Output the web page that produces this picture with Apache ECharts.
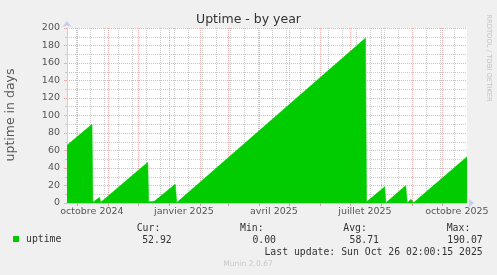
<!DOCTYPE html>
<html><head><meta charset="utf-8">
<script src="https://cdn.jsdelivr.net/npm/echarts@6/dist/echarts.min.js"></script>
<style>html,body{margin:0;padding:0;background:#f0f0f0;}#c{width:497px;height:275px;}</style>
</head><body><div id="c"></div>
<script>
// ---- data ----
const timeRange = ['2024-09-21 02:00', '2025-10-26 02:00'];
const pointDates = [
  '2024-09-21 02:00', '2024-10-16 02:00', '2024-10-17 00:00', '2024-10-23 16:00',
  '2024-10-24 20:00', '2024-12-10 20:00', '2024-12-11 20:00', '2024-12-17 08:00',
  '2025-01-07 08:00', '2025-01-08 20:00', '2025-01-09 20:00', '2025-07-16 14:00',
  '2025-07-17 16:00', '2025-08-04 20:00', '2025-08-06 00:00', '2025-08-07 00:00',
  '2025-08-25 20:00', '2025-08-27 08:00', '2025-08-29 08:00', '2025-08-31 02:00',
  '2025-09-02 02:00', '2025-09-02 20:00', '2025-09-04 08:00', '2025-10-26 02:00'
];
const uptimeDays = [
  66, 90, 1, 6.5,
  0.8, 46.5, 1.5, 2,
  21.5, 0.5, 0.8, 188.5,
  1.5, 18.6, 0.3, 0.3,
  20, 0.3, 0.5, 4.2,
  4, 0.5, 0.8, 52.9
];
const monthStarts = [
  '2024-10-01', '2024-11-01', '2024-12-01', '2025-01-01', '2025-02-01', '2025-03-01',
  '2025-04-01', '2025-05-01', '2025-06-01', '2025-07-01', '2025-08-01', '2025-09-01', '2025-10-01'
];
const biweekStarts = [
  '2024-09-30', '2024-10-14', '2024-10-28', '2024-11-11', '2024-11-25', '2024-12-09',
  '2024-12-23', '2025-01-06', '2025-01-20', '2025-02-03', '2025-02-17', '2025-03-03',
  '2025-03-17', '2025-03-31', '2025-04-14', '2025-04-28', '2025-05-12', '2025-05-26',
  '2025-06-09', '2025-06-23', '2025-07-07', '2025-07-21', '2025-08-04', '2025-08-18',
  '2025-09-15', '2025-09-29', '2025-10-13'
];
const xLabelDates = ['2024-10-16', '2025-01-16', '2025-04-16', '2025-07-16', '2025-10-16'];
const xLabelTexts = ['octobre 2024', 'janvier 2025', 'avril 2025', 'juillet 2025', 'octobre 2025'];
const yMin = 0, yMax = 200, yStep = 20;
const seriesName = 'uptime';
const statNames = ['Cur:', 'Min:', 'Avg:', 'Max:'];
const statValues = ['52.92', '0.00', '58.71', '190.07'];
const titleText = 'Uptime - by year';
const yAxisTitle = 'uptime in days';
const lastUpdate = 'Last update: Sun Oct 26 02:00:15 2025';
const footer = 'Munin 2.0.67';
const sideText = 'RRDTOOL / TOBI OETIKER';

// ---- build ----
const ts = s => new Date(s.length <= 10 ? s + 'T00:00' : s.replace(' ', 'T')).getTime();
const seriesData = pointDates.map((d, i) => [ts(d), uptimeDays[i]]);
const labelTs = xLabelDates.map(ts);

const RED = '#efb0b0', GREY = '#cbcbcb', AXIS = '#c6cdee';
const SANS = 'DejaVu Sans', MONO = 'DejaVu Sans Mono';

const chart = echarts.init(document.getElementById('c'), null, {renderer: 'canvas'});
const valueRight = [171.7, 276, 379, 482.7];
const nameLeft = [136.7, 240, 343.3, 446.7];
const graphics = [
  {type: 'text', x: 248.5, y: 19.5, style: {text: titleText, font: '12.5px "' + SANS + '"', fill: '#333', align: 'center', verticalAlign: 'middle'}},
  {type: 'text', x: 11, y: 115, rotation: Math.PI / 2, style: {text: yAxisTitle, font: '12.5px "' + SANS + '"', fill: '#555', align: 'center', verticalAlign: 'middle'}},
  {type: 'text', x: 488.5, y: 58, rotation: -Math.PI / 2, style: {text: sideText, font: '6.8px "' + SANS + '"', fill: '#c4c4c4', align: 'center', verticalAlign: 'middle'}},
  {type: 'text', x: 482.7, y: 252, style: {text: lastUpdate, font: '9.8px "' + MONO + '"', fill: '#333', align: 'right', verticalAlign: 'middle'}},
  {type: 'text', x: 248, y: 264, style: {text: footer, font: '7.6px "' + SANS + '"', fill: '#c8c8c8', align: 'center', verticalAlign: 'middle'}}
];
statNames.forEach((n, i) => {
  graphics.push({type: 'text', x: nameLeft[i], y: 228.5, style: {text: n, font: '9.8px "' + MONO + '"', fill: '#333', align: 'left', verticalAlign: 'middle'}});
  graphics.push({type: 'text', x: valueRight[i], y: 240, style: {text: statValues[i], font: '9.8px "' + MONO + '"', fill: '#333', align: 'right', verticalAlign: 'middle'}});
});

chart.setOption({
  animation: false,
  backgroundColor: '#f0f0f0',
  grid: {left: 67, top: 28, width: 400, height: 175, show: true, backgroundColor: '#ffffff', borderWidth: 0},
  legend: {
    data: [seriesName], left: 13, top: 234, icon: 'rect', itemWidth: 6, itemHeight: 6, padding: 0,
    textStyle: {fontFamily: MONO, fontSize: 9.8, color: '#333', padding: [0, 0, 0, 2]}
  },
  xAxis: [
    {
      // data axis: bi-weekly minor grid, axis line and labels
      type: 'value', min: ts(timeRange[0]), max: ts(timeRange[1]), position: 'bottom',
      axisLine: {show: true, onZero: false, lineStyle: {color: AXIS, width: 1}, symbol: ['none', 'arrow'], symbolSize: [7, 6], symbolOffset: [0, 7]},
      axisTick: {show: false, customValues: biweekStarts.map(ts)},
      axisLabel: {
        show: true, customValues: labelTs, margin: 4, fontFamily: SANS, fontSize: 9.5, color: '#555',
        formatter: v => { let bi = 0, bd = Infinity; labelTs.forEach((t, i) => { const d = Math.abs(t - v); if (d < bd) { bd = d; bi = i; } }); return xLabelTexts[bi]; }
      },
      splitLine: {show: true, lineStyle: {color: GREY, type: [1, 1], width: 1}}
    },
    {
      // month-start major grid and ticks
      type: 'value', min: ts(timeRange[0]), max: ts(timeRange[1]), position: 'bottom',
      axisLine: {show: false}, axisLabel: {show: false},
      axisTick: {show: true, customValues: monthStarts.map(ts), length: 3, lineStyle: {color: '#e89a9a'}},
      splitLine: {show: true, lineStyle: {color: RED, type: [1, 1], width: 1}}
    }
  ],
  yAxis: {
    type: 'value', min: yMin, max: yMax, interval: yStep,
    axisLine: {show: true, lineStyle: {color: AXIS, width: 1}, symbol: ['none', 'arrow'], symbolSize: [7, 6], symbolOffset: [0, 7]},
    axisTick: {show: true, length: 3, lineStyle: {color: RED}},
    minorTick: {show: true, splitNumber: 2, length: 2, lineStyle: {color: GREY}},
    axisLabel: {margin: 7, fontFamily: SANS, fontSize: 9.5, color: '#555'},
    splitLine: {show: true, lineStyle: {color: RED, type: [1, 1], width: 1}},
    minorSplitLine: {show: true, lineStyle: {color: GREY, type: [1, 1], width: 1}}
  },
  series: [{
    name: seriesName, type: 'line', xAxisIndex: 0, data: seriesData,
    showSymbol: false, symbol: 'none', smooth: false,
    itemStyle: {color: '#00cc00'},
    lineStyle: {color: '#00cc00', width: 0.5},
    areaStyle: {color: '#00cc00', opacity: 1}
  }],
  graphic: graphics
});
</script></body></html>
